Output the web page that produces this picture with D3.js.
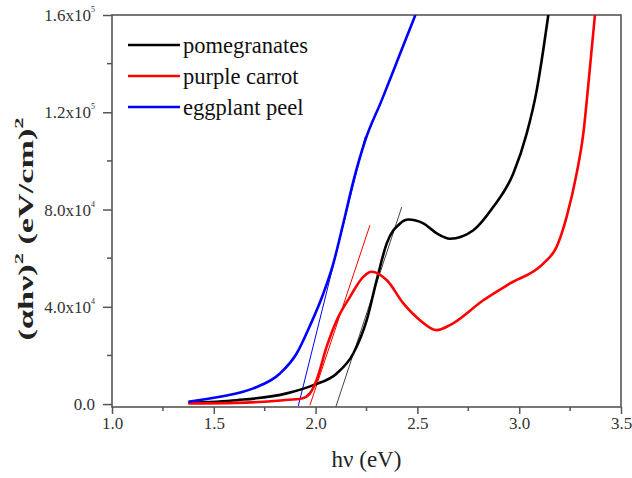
<!doctype html>
<html lang="en">
<head>
<meta charset="utf-8">
<script src="https://d3js.org/d3.v7.min.js"></script>
<style>
  body { margin: 0; background: #fff; }
  svg text { font-family: "Liberation Serif", "Times New Roman", serif; }
</style>
</head>
<body>
<div id="chart"></div>
<script>
// photon energy (eV) and (alpha h nu)^2 values
var pomX = [1.375, 1.612, 1.858, 1.989, 2.104, 2.185, 2.251, 2.30, 2.349, 2.415, 2.455, 2.529, 2.595, 2.66, 2.775, 2.873, 2.971, 3.037, 3.086, 3.118, 3.143];
var pomY = [550, 1600, 4400, 7800, 12600, 20800, 34500, 51000, 66000, 74300, 75900, 74300, 70200, 68000, 71500, 81100, 94800, 111300, 129000, 145500, 160000];

var carX = [1.375, 1.612, 1.841, 1.932, 1.972, 2.005, 2.054, 2.104, 2.169, 2.234, 2.275, 2.349, 2.431, 2.513, 2.595, 2.66, 2.824, 2.955, 3.118, 3.184, 3.233, 3.282, 3.315, 3.34, 3.372];
var carY = [300, 500, 1600, 2300, 4400, 9900, 23500, 34500, 44100, 52300, 54400, 51000, 41400, 34500, 30400, 32500, 42700, 49600, 57800, 64700, 77000, 94800, 111300, 131800, 160000];

var eggX = [1.375, 1.53, 1.694, 1.825, 1.907, 1.97, 2.038, 2.087, 2.136, 2.185, 2.244, 2.325, 2.41, 2.49];
var eggY = [950, 3000, 6450, 12600, 20800, 31800, 45500, 57800, 74300, 91500, 108500, 125000, 143000, 160000];

// linear fits (tangent lines) to the absorption edge
var fitPomX = [2.10, 2.423], fitPomY = [-1000, 81000];
var fitCarX = [1.972, 2.267], fitCarY = [-500, 73600];
var fitEggX = [1.915, 2.244], fitEggY = [-800, 110000];

var names = ["pomegranates", "purple carrot", "eggplant peel"];
var colors = ["#000000", "#ff0000", "#0000ff"];

var xMajor = [1.0, 1.5, 2.0, 2.5, 3.0, 3.5];
var xMinor = [1.25, 1.75, 2.25, 2.75, 3.25];
var yMajor = [0, 40000, 80000, 120000, 160000];
var yMinor = [20000, 60000, 100000, 140000];
var yBase = ["0.0", "4.0x10", "8.0x10", "1.2x10", "1.6x10"];
var yExp = ["", "4", "4", "5", "5"];

var W = 632, H = 478;
var pl = 112, pr = 621, pt = 15, pb = 407;

var svg = d3.select("#chart").append("svg")
    .attr("width", W).attr("height", H);

var x = d3.scaleLinear().domain([1.0, 3.5]).range([pl, pr]);
var y = d3.scaleLinear().domain([-1200, 160000]).range([pb, pt]);

svg.append("clipPath").attr("id", "plot")
  .append("rect").attr("x", pl).attr("y", pt)
  .attr("width", pr - pl).attr("height", pb - pt);

var axisColor = "#555";
var serif = "'Liberation Serif', 'Times New Roman', serif";

// frame
svg.append("rect")
    .attr("x", pl).attr("y", pt)
    .attr("width", pr - pl).attr("height", pb - pt)
    .attr("fill", "none").attr("stroke", axisColor).attr("stroke-width", 1.6);

// x axis
var xAxis = d3.axisBottom(x).tickValues(xMajor).tickSize(7).tickFormat(d3.format(".1f"));
var gx = svg.append("g").attr("transform", "translate(0," + pb + ")").call(xAxis)
    .attr("font-family", serif).attr("font-size", 17);
gx.select(".domain").remove();
gx.selectAll(".tick line").attr("stroke", axisColor).attr("stroke-width", 1.5);
gx.selectAll(".tick text").attr("fill", "#333").attr("dy", "0.72em");

svg.append("g").selectAll("line").data(xMinor).join("line")
    .attr("x1", d => x(d)).attr("x2", d => x(d))
    .attr("y1", pb).attr("y2", pb + 4)
    .attr("stroke", axisColor).attr("stroke-width", 1.5);

// y axis
var gy = svg.append("g").attr("transform", "translate(" + pl + ",0)")
    .call(d3.axisLeft(y).tickValues(yMajor).tickSize(9).tickFormat(""));
gy.select(".domain").remove();
gy.selectAll(".tick line").attr("stroke", axisColor).attr("stroke-width", 1.5);

svg.append("g").selectAll("line").data(yMinor).join("line")
    .attr("x1", pl - 5).attr("x2", pl)
    .attr("y1", d => y(d)).attr("y2", d => y(d))
    .attr("stroke", axisColor).attr("stroke-width", 1.5);

var ylab = svg.append("g").selectAll("text").data(yMajor).join("text")
    .attr("x", pl - 17)
    .attr("y", d => y(d) + 6)
    .attr("text-anchor", "end")
    .attr("fill", "#333")
    .attr("font-size", 17);
ylab.append("tspan").text((d, i) => yBase[i]);
ylab.append("tspan").attr("font-size", 8).attr("dy", -9).text((d, i) => yExp[i]);

// axis titles
svg.append("text")
    .attr("x", (pl + pr) / 2).attr("y", 467)
    .attr("text-anchor", "middle")
    .attr("font-size", 23).attr("fill", "#222")
    .text("h\u03bd (eV)");

var yt = svg.append("text")
    .attr("font-size", 20).attr("font-weight", "bold").attr("fill", "#222")
    .attr("text-anchor", "middle");
yt.append("tspan").text("(\u03b1h\u03bd)");
yt.append("tspan").attr("font-size", 13).attr("dy", -10).text("2");
yt.append("tspan").attr("dy", 10).text(" (eV/cm)");
yt.append("tspan").attr("font-size", 13).attr("dy", -10).text("2");
var ytw = yt.node().getComputedTextLength();
yt.attr("transform", "translate(33,229) rotate(-90) scale(" + (223 / ytw) + ",1)");

// curves
var line = d3.line().x(d => x(d[0])).y(d => y(d[1])).curve(d3.curveMonotoneX);
var series = [
  d3.zip(pomX, pomY),
  d3.zip(carX, carY),
  d3.zip(eggX, eggY)
];
var fits = [
  d3.zip(fitPomX, fitPomY),
  d3.zip(fitCarX, fitCarY),
  d3.zip(fitEggX, fitEggY)
];

var plot = svg.append("g").attr("clip-path", "url(#plot)");

plot.selectAll(".fit").data(fits).join("path")
    .attr("class", "fit")
    .attr("d", d3.line().x(d => x(d[0])).y(d => y(d[1])))
    .attr("fill", "none")
    .attr("stroke", (d, i) => i == 0 ? "#444" : colors[i])
    .attr("stroke-width", 1);

plot.selectAll(".curve").data(series).join("path")
    .attr("class", "curve")
    .attr("d", line)
    .attr("fill", "none")
    .attr("stroke", (d, i) => colors[i])
    .attr("stroke-width", 2.6)
    .attr("stroke-linejoin", "round");

// legend
var lg = svg.append("g").selectAll("g").data(names).join("g")
    .attr("transform", (d, i) => "translate(128," + (45 + i * 31) + ")");
lg.append("line")
    .attr("x1", 0).attr("x2", 52)
    .attr("stroke", (d, i) => colors[i]).attr("stroke-width", 2.6);
lg.append("text")
    .attr("x", 55).attr("y", 8)
    .attr("font-size", 22.5).attr("fill", "#111")
    .text(d => d);
</script>
</body>
</html>
